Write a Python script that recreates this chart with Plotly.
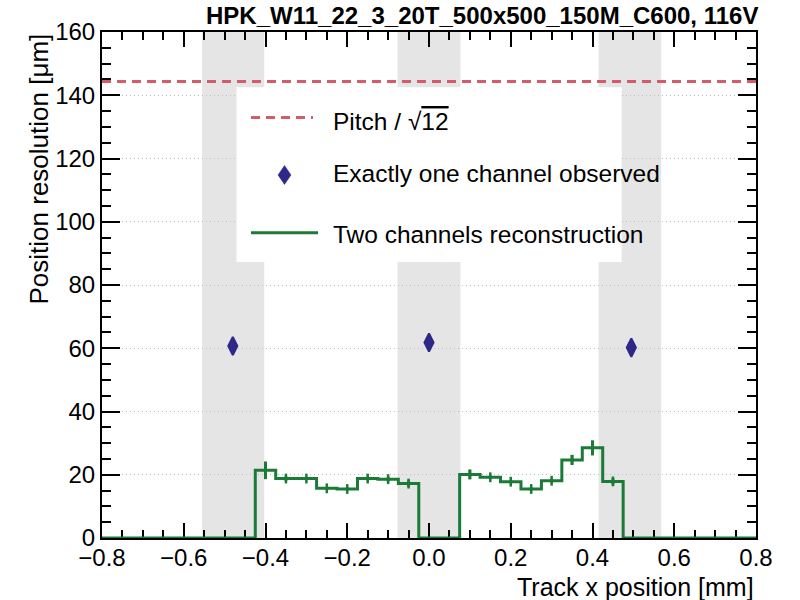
import plotly.graph_objects as go

# ---------------- data ----------------
bin_centers = [-0.80, -0.75, -0.70, -0.65, -0.60, -0.55, -0.50, -0.45,
               -0.40, -0.35, -0.30, -0.25, -0.20, -0.15, -0.10, -0.05,
               0.00, 0.05,
               0.10, 0.15, 0.20, 0.25, 0.30, 0.35, 0.40, 0.45,
               0.50, 0.55, 0.60, 0.65, 0.70, 0.75, 0.80]
two_channel_res = [0, 0, 0, 0, 0, 0, 0, 0,
                   21.4, 18.8, 18.8, 15.7, 15.5, 18.8, 18.6, 17.2,
                   0, 0,
                   20.1, 19.2, 17.8, 15.5, 18.1, 24.7, 28.5, 17.9,
                   0, 0, 0, 0, 0, 0, 0]
two_channel_err = [0, 0, 0, 0, 0, 0, 0, 0,
                   2.8, 0.7, 0.5, 0.4, 0.5, 0.6, 0.7, 1.0,
                   0, 0,
                   1.5, 0.6, 0.5, 0.5, 0.6, 1.6, 2.4, 1.0,
                   0, 0, 0, 0, 0, 0, 0]
bin_width = 0.05

one_channel_x = [-0.48, 0.0, 0.495]
one_channel_res = [60.7, 61.8, 60.2]

pitch_um = 500.0
pitch_res = pitch_um / 12 ** 0.5

pad_bands = [(-0.555, -0.403), (-0.077, 0.077), (0.415, 0.568)]

x_range = [-0.8, 0.8]
y_range = [0, 160]

title_text = "HPK_W11_22_3_20T_500x500_150M_C600, 116V"

# ---------------- styling ----------------
FONT = "Liberation Sans"
GREEN = "#1b7a36"
PITCH = "#d65a6c"
DIAMOND = "#2e2888"
BAND = "#e5e5e5"

# plot-area geometry (pixels)
L, R, T, B = 102, 44, 32, 62
W, H = 800, 600
pw, ph = W - L - R, H - T - B


def px2x(px):
    return x_range[0] + (px - L) / pw * (x_range[1] - x_range[0])


def py2y(py):
    return y_range[0] + (H - B - py) / ph * (y_range[1] - y_range[0])


fig = go.Figure()

# step histogram (two channels reconstruction)
edges_x = [c - bin_width / 2 for c in bin_centers] + [bin_centers[-1] + bin_width / 2]
edges_y = two_channel_res + [two_channel_res[-1]]
fig.add_trace(go.Scatter(x=edges_x, y=edges_y, mode="lines",
                         line=dict(color=GREEN, width=3, shape="hv"),
                         showlegend=False, hoverinfo="skip"))

# error bars on the non-empty bins
ex = [c for c, v in zip(bin_centers, two_channel_res) if v > 0]
ey = [v for v in two_channel_res if v > 0]
ee = [e for e, v in zip(two_channel_err, two_channel_res) if v > 0]
fig.add_trace(go.Scatter(x=ex, y=ey, mode="markers",
                         marker=dict(size=1, color=GREEN, opacity=0),
                         error_y=dict(type="data", array=ee, color=GREEN,
                                      thickness=3, width=0, visible=True),
                         showlegend=False))
# a short vertical mark at each bin centre
fig.add_trace(go.Scatter(x=ex, y=ey, mode="markers",
                         marker=dict(symbol="line-ns", size=7,
                                     line=dict(color=GREEN, width=2.5)),
                         showlegend=False))

# pitch / sqrt(12)
fig.add_trace(go.Scatter(x=x_range, y=[pitch_res, pitch_res], mode="lines",
                         line=dict(color=PITCH, width=3, dash="9px,6px"),
                         showlegend=False))

# exactly one channel observed
fig.add_trace(go.Scatter(x=one_channel_x, y=one_channel_res, mode="markers",
                         marker=dict(symbol="diamond-tall", size=13, color=DIAMOND,
                                     line=dict(color=DIAMOND, width=2)),
                         showlegend=False))

shapes = []
for x0, x1 in pad_bands:
    shapes.append(dict(type="rect", xref="x", yref="y", x0=x0, x1=x1,
                       y0=y_range[0], y1=y_range[1], fillcolor=BAND,
                       line=dict(width=0), layer="below"))

# legend box
shapes.append(dict(type="rect", xref="x", yref="y", x0=px2x(236.5), x1=px2x(621.7),
                   y0=py2y(262), y1=py2y(87.3), fillcolor="white",
                   line=dict(width=0), layer="between"))
# legend samples
shapes.append(dict(type="line", xref="x", yref="y", x0=px2x(251), x1=px2x(313),
                   y0=py2y(117.5), y1=py2y(117.5),
                   line=dict(color=PITCH, width=3, dash="9px,6px"), layer="above"))
shapes.append(dict(type="line", xref="x", yref="y", x0=px2x(251), x1=px2x(318),
                   y0=py2y(232.7), y1=py2y(232.7),
                   line=dict(color=GREEN, width=3), layer="above"))
cx, cy = 284.5, 175
shapes.append(dict(type="path", xref="paper", yref="paper",
                   path="M {0} {1} L {2} {3} L {0} {4} L {5} {3} Z".format(
                       (cx - L) / pw, (H - B - (cy - 9.5)) / ph,
                       (cx + 6.5 - L) / pw, (H - B - cy) / ph,
                       (H - B - (cy + 9.5)) / ph, (cx - 6.5 - L) / pw),
                   fillcolor=DIAMOND, line=dict(color=DIAMOND, width=0.5), layer="above"))

annotations = [
    dict(text="Pitch / √<span style='text-decoration:overline'>12</span>",
         xref="x", yref="y", x=px2x(331), y=py2y(121),
         xanchor="left", yanchor="middle", showarrow=False,
         font=dict(family=FONT, size=24.5, color="black")),
    dict(text="Exactly one channel observed",
         xref="x", yref="y", x=px2x(331), y=py2y(173),
         xanchor="left", yanchor="middle", showarrow=False,
         font=dict(family=FONT, size=24.5, color="black")),
    dict(text="Two channels reconstruction",
         xref="x", yref="y", x=px2x(331), y=py2y(234),
         xanchor="left", yanchor="middle", showarrow=False,
         font=dict(family=FONT, size=24.5, color="black")),
    # title
    dict(text="<b>" + title_text + "</b>", xref="paper", yref="paper",
         x=(760 - L) / pw, y=(H - B - 16) / ph, xanchor="right", yanchor="middle",
         showarrow=False, font=dict(family=FONT, size=24, color="black")),
    # axis titles
    dict(text="Track x position [mm]", xref="paper", yref="paper",
         x=1.0, y=(H - B - 587) / ph, xanchor="right", yanchor="middle",
         showarrow=False, font=dict(family=FONT, size=25, color="black")),
    dict(text="Position resolution [μm]", xref="paper", yref="paper",
         x=(38 - L) / pw, y=1.0, xanchor="center", yanchor="top", textangle=-90,
         showarrow=False, font=dict(family=FONT, size=26, color="black")),
]

fig.update_layout(
    width=W, height=H,
    margin=dict(l=L, r=R, t=T, b=B, pad=0),
    paper_bgcolor="white", plot_bgcolor="white",
    shapes=shapes, annotations=annotations,
    font=dict(family=FONT, size=24, color="black"),
    showlegend=False,
)
fig.update_xaxes(range=x_range, dtick=0.2, tick0=-0.8, ticks="inside", ticklen=15,
                 tickwidth=1.5, tickcolor="black", showline=True, linecolor="black",
                 linewidth=2, mirror="ticks", showgrid=False, zeroline=False,
                 tickformat=".1f", tickfont=dict(family=FONT, size=24),
                 ticklabelstandoff=-3,
                 layer="below traces",
                 minor=dict(dtick=0.05, tick0=-0.8, ticks="inside", ticklen=8,
                            tickwidth=1.5, tickcolor="black", showgrid=False))
fig.update_yaxes(range=y_range, dtick=20, ticks="inside", ticklen=18,
                 tickwidth=1.5, tickcolor="black", showline=True, linecolor="black",
                 linewidth=2, mirror="ticks", showgrid=True, gridcolor="#bdbdbd",
                 griddash="1px,3px", gridwidth=1, zeroline=False,
                 tickfont=dict(family=FONT, size=24), layer="below traces",
                 minor=dict(dtick=5, ticks="inside", ticklen=9, tickwidth=1.5,
                            tickcolor="black", showgrid=False))

fig.write_html("out.html")
